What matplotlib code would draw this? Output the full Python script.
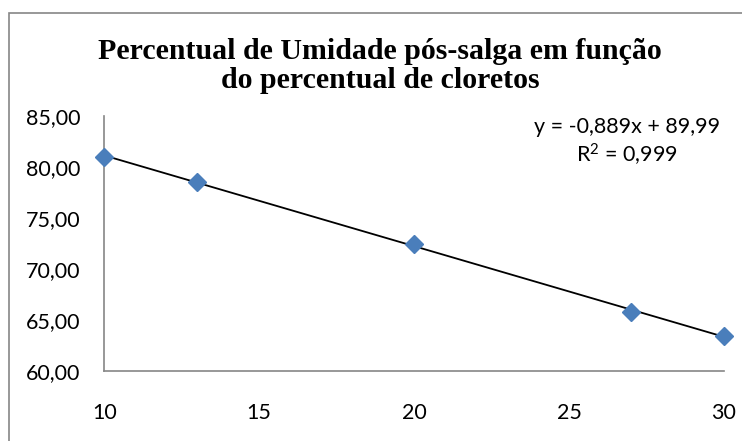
import matplotlib
matplotlib.use("Agg")
import matplotlib.pyplot as plt
from matplotlib.patches import Rectangle
from matplotlib.ticker import FuncFormatter
import numpy as np

# dados
cloretos = [10, 13, 20, 27, 30]
umidade = [80.92, 78.53, 72.42, 65.73, 63.40]
slope, intercept = -0.889, 89.99
eq_label = "y = -0,889x + 89,99"
r2_label = r"R$^2$ = 0,999"
title1 = "Percentual de Umidade pós-salga em função"
title2 = "do percentual de cloretos"

plt.rcParams["mathtext.fontset"] = "custom"
plt.rcParams["mathtext.rm"] = "Lato"
plt.rcParams["mathtext.it"] = "Lato"
plt.rcParams["mathtext.default"] = "rm"

W, H = 742, 441
fig = plt.figure(figsize=(W / 100, H / 100), dpi=100)
ax = fig.add_axes([104.3 / W, 1 - 370.7 / H, (724 - 104.3) / W, (370.7 - 115.7) / H])

gray = "#868686"
# moldura externa do grafico
fig.patches.append(Rectangle((9 / W, -0.1), 1.2, 1 - 12.7 / H + 0.1, transform=fig.transFigure,
                             fill=False, edgecolor=gray, lw=1.2))

xl = np.array([cloretos[0], cloretos[-1]])
ax.plot(xl, slope * xl + intercept, color="black", lw=1.3, zorder=2)
ax.plot(cloretos, umidade, "D", color="#4a7ebb", ms=9.5, mec="#4a7ebb", zorder=3, clip_on=False)

ax.set_xlim(10, 30)
ax.set_ylim(60, 85)
ax.set_xticks([10, 15, 20, 25, 30])
ax.set_yticks([60, 65, 70, 75, 80, 85])
ax.yaxis.set_major_formatter(FuncFormatter(lambda v, p: f"{v:.2f}".replace(".", ",")))

for s in ["top", "right"]:
    ax.spines[s].set_visible(False)
for s in ["left", "bottom"]:
    ax.spines[s].set_color(gray)
    ax.spines[s].set_linewidth(1.2)
ax.tick_params(length=0, labelsize=15.5)
ax.tick_params(axis="y", pad=17)
ax.tick_params(axis="x", pad=23)
for lab in ax.get_xticklabels() + ax.get_yticklabels():
    lab.set_fontfamily("Lato")

fig.text(380 / W, 1 - 59 / H, title1, ha="center", va="baseline", fontsize=21.5,
         fontweight="bold", family="Liberation Serif")
fig.text(380 / W, 1 - 88 / H, title2, ha="center", va="baseline", fontsize=21.5,
         fontweight="bold", family="Liberation Serif")

fig.text(626.7 / W, 1 - 126.7 / H, eq_label, ha="center", va="center", fontsize=15.5, family="Lato")
fig.text(626.7 / W, 1 - 155 / H, r2_label, ha="center", va="center", fontsize=15.5, family="Lato")

fig.savefig("out.png", dpi=100)
